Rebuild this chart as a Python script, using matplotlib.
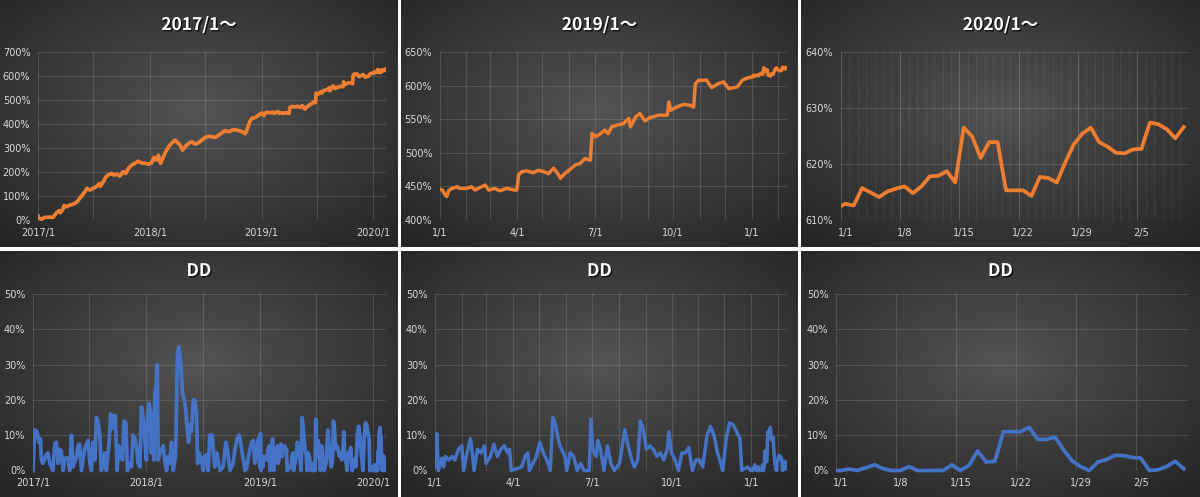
import numpy as np
import pandas as pd
import matplotlib
matplotlib.use('Agg')
import matplotlib.pyplot as plt
import matplotlib.patheffects as pe
from matplotlib.patches import Rectangle

W, H = 1200, 497

# cumulative return (%) 2017-2018, days since 2017/1/1
ret17_day = [0, 3, 11, 22, 38, 49, 55, 62, 69, 73, 80, 85, 93, 104, 117, 128, 136, 145, 153, 160,
             169, 180, 191, 200, 204, 213, 222, 229, 240, 248, 256, 267, 278, 287, 295, 306, 316, 327, 338, 349,
             360, 371, 379, 387, 393, 400, 407, 415, 426, 436, 447, 453, 464, 472, 480, 491, 502, 513, 524, 535,
             546, 557, 567, 578, 589, 600, 611, 622, 633, 644, 655, 666, 677, 684, 691, 698, 709, 720]
ret17_val = [17, 7, 3, 11, 12, 11, 21, 32, 39, 30, 42, 60, 55, 62, 67, 76, 90, 104, 118, 132,
             125, 132, 139, 152, 141, 159, 180, 187, 194, 187, 191, 183, 201, 194, 215, 229, 236, 245, 238, 236,
             233, 238, 261, 250, 270, 236, 256, 280, 305, 319, 333, 326, 312, 291, 305, 319, 326, 316, 322, 333,
             344, 349, 347, 344, 353, 363, 372, 368, 374, 377, 372, 368, 360, 381, 409, 423, 427, 437]

# 2019, days since 2019/1/1
ret19_day = [0, 3, 6, 8, 10, 14, 20, 23, 31, 37, 41, 47, 53, 57, 64, 70, 78, 88, 90, 92,
             96, 102, 109, 115, 121, 127, 133, 139, 141, 146, 154, 158, 164, 170, 176, 178, 182, 188, 193, 197,
             201, 207, 215, 221, 223, 229, 234, 240, 246, 256, 266, 268, 270, 277, 285, 293, 297, 299, 303, 312,
             318, 326, 332, 338, 348, 354, 361]
ret19_val = [445.5, 444.5, 437, 435, 443.6, 447, 449.5, 447, 447, 449.5, 444.5, 448.5, 452, 444.5, 447, 443.6, 447, 444.5, 444.5, 467,
             472, 473, 470.3, 474, 472, 469, 477, 467, 462, 469, 477, 481.7, 484, 491.6, 489, 528.7, 523.8, 528.7, 533.7, 528.7,
             538.6, 541, 543.6, 551, 538.6, 553.5, 558.4, 547.5, 552.5, 556, 556, 575.7, 563.4, 568, 572, 570.8, 568, 603, 608, 608,
             597, 603, 605.5, 595.5, 598, 608, 612]

# daily 2019/12/31 - 2020/2/10
ret20_val = [612.1, 612.9, 612.6, 615.7, 614.9, 614.1, 615.1, 615.6, 616.0, 614.8, 616.0, 617.8, 617.9, 618.7,
             616.7, 626.5, 624.9, 621.1, 623.9, 623.9, 615.3, 615.3, 615.3, 614.3, 617.7, 617.5, 616.7, 620.3,
             623.5, 625.4, 626.5, 623.9, 623.1, 622.0, 621.9, 622.6, 622.7, 627.4, 627.1, 626.2, 624.6, 626.6]

# drawdown (%)
dd17_day = [0, 5, 13, 19, 24, 27, 32, 43, 48, 54, 59, 64, 70, 75, 81, 86, 91, 97, 102, 113,
            118, 124, 129, 140, 145, 150, 156, 166, 172, 177, 183, 188, 193, 199, 204, 209, 215, 220, 226, 231,
            236, 245, 250, 256, 260, 265, 271, 276, 281, 288, 293, 299, 304, 311, 317, 322, 328, 333, 338, 344,
            349, 354, 360, 365, 368, 373, 378, 381, 385, 389, 392, 395, 400, 403, 408, 414, 419, 424, 430, 435,
            440, 446, 451, 459, 465, 470, 476, 481, 487, 492, 496, 501, 505, 510, 516, 521, 526, 530, 535, 542,
            548, 553, 559, 564, 569, 577, 580, 585, 591, 596, 602, 612, 621, 626, 634, 644, 650, 657, 664, 668,
            677, 682, 687, 698, 704, 709, 714, 725]
dd17_val = [0, 11.5, 11, 8, 9, 3, 2, 4.5, 5, 2, 1, 0, 7.5, 8, 2, 6, 5.5, 0, 3.5, 3.5,
            0, 10, 1, 4, 7, 7.5, 0, 6, 7.5, 8.5, 2, 0, 8, 3, 15, 14, 10, 0, 3, 5,
            0, 8, 16, 12, 15.5, 15.5, 0, 7, 4, 3, 14, 13.5, 0, 2, 1, 10, 9, 7, 2, 1,
            18, 15, 9, 3, 14, 19, 17, 5, 16, 3, 22, 23, 30, 3, 5, 6, 7, 3, 0, 4,
            2, 8, 0, 4, 33, 35, 30, 22, 20, 17, 12, 8, 13, 11, 20, 20, 16, 2, 5, 3,
            0, 4, 4.5, 0, 10, 10, 6, 1, 5, 3, 0, 1, 8, 6, 0, 2, 6, 9, 10, 8,
            3, 0, 0.5, 6, 8, 8.5, 2, 9]
dd19_day = [0, 2, 4, 8, 10, 12, 16, 20, 23, 27, 31, 33, 37, 41, 43, 45, 49, 53, 57, 59,
            64, 68, 72, 76, 80, 84, 86, 88, 94, 100, 104, 107, 109, 113, 117, 121, 125, 129, 133, 136,
            139, 143, 146, 150, 152, 156, 160, 164, 168, 172, 178, 180, 182, 186, 188, 191, 195, 199, 203, 207,
            213, 219, 223, 227, 230, 234, 237, 240, 244, 248, 252, 256, 260, 264, 268, 270, 273, 277, 281, 285,
            289, 293, 297, 301, 305, 309, 314, 318, 322, 326, 330, 332, 336, 340, 344, 348, 352, 354, 357, 361]
dd19_val = [1, 10.5, 0, 3.5, 1, 4, 3, 4, 3, 6, 7, 0, 5, 9, 5, 0, 6, 5, 7, 2,
            4, 7.5, 4, 6, 7, 5, 6, 0, 0.5, 1, 4, 5, 0, 2, 4, 8, 5, 3, 0, 15,
            13, 8, 6, 4, 0, 5, 4, 0, 2, 0, 0, 14.5, 6, 4, 8.5, 6, 0, 7, 2, 0,
            2, 11.5, 7, 3, 1, 3, 14, 12, 6, 7, 6, 4, 5, 3, 6, 11, 5, 3, 0, 5,
            5, 6.5, 0, 3, 3, 1, 10, 12.5, 10, 5, 2, 0, 9, 13.5, 13, 11, 9, 0, 0.5, 1]
dd20_val = [0, 0.0, 0.4, 0.0, 0.8, 1.6, 0.5, 0.0, 0.0, 1.1, 0.0, 0.0, 0.0, 0.0, 1.6, 0.0, 1.5, 5.5, 2.4, 2.6,
            11.0, 11.0, 11.0, 12.2, 8.8, 8.8, 9.5, 5.9, 2.7, 1.1, 0.0, 2.4, 3.1, 4.3, 4.2, 3.7, 3.5, 0.0,
            0.2, 1.1, 2.6, 0.5]

titles = ['2017/1～', '2019/1～', '2020/1～']
ORANGE = '#ED7D31'
BLUE = '#4472C4'
TXT = '#d9d9d9'

t17 = pd.Timestamp('2017-01-01') + pd.to_timedelta(ret17_day, unit='D')
t19 = pd.Timestamp('2019-01-01') + pd.to_timedelta(ret19_day, unit='D')
t20 = pd.date_range('2019-12-31', periods=len(ret20_val), freq='D')
d17 = pd.Timestamp('2017-01-01') + pd.to_timedelta(dd17_day, unit='D')
d19 = pd.Timestamp('2019-01-01') + pd.to_timedelta(dd19_day, unit='D')
d20 = pd.date_range('2019-12-31', periods=len(dd20_val), freq='D')

ret_all = pd.Series(ret17_val + ret19_val + ret20_val, index=t17.append(t19).append(t20))
dd_all = pd.Series(dd17_val + dd19_val + dd20_val, index=d17.append(d19).append(d20))

fig = plt.figure(figsize=(W / 100, H / 100), dpi=100, facecolor='white')


def frac(left, right, top, bottom):
    return [left / W, 1 - bottom / H, (right - left) / W, (bottom - top) / H]


# radial dark background for each panel
yy, xx = np.mgrid[0:1:200j, 0:1:300j]
r = np.sqrt((xx - 0.5) ** 2 + (yy - 0.45) ** 2) / np.sqrt(0.5)
r = np.clip(r, 0, 1)
c_in, c_out = 0.33, 0.15
grad = c_in + (c_out - c_in) * r ** 0.9
bg = np.dstack([grad, grad, grad])

cols = [(0, 398), (401, 798), (801, 1200)]
rows = [(0, 247), (251, 497)]
for (top, bot) in rows:
    for (lft, rgt) in cols:
        bax = fig.add_axes(frac(lft, rgt, top, bot), zorder=0)
        bax.imshow(bg, aspect='auto', extent=[0, 1, 0, 1], interpolation='bilinear')
        bax.set_axis_off()

# titles
shadow = [pe.withSimplePatchShadow(offset=(1, -1), shadow_rgbFace='black', alpha=0.7)]
for i, (lft, rgt) in enumerate(cols):
    cx = (lft + rgt) / 2 / W
    fig.text(cx, 1 - 25 / H, titles[i], color='white', fontsize=12.5, fontweight='bold',
             ha='center', va='center', family=['Noto Sans CJK JP', 'DejaVu Sans'], path_effects=shadow)
    fig.text(cx, 1 - 271 / H, 'DD', color='white', fontsize=12.5, fontweight='bold',
             ha='center', va='center', family=['Noto Sans CJK JP', 'DejaVu Sans'], path_effects=shadow)

end = pd.Timestamp('2020-02-11 06:00')
half = pd.Timedelta(hours=12)


def style(ax, ylim, ystep):
    ax.set_facecolor('none')
    for s in ax.spines.values():
        s.set_visible(False)
    ax.set_ylim(*ylim)
    yt = np.arange(ylim[0], ylim[1] + 0.1, ystep)
    ax.set_yticks(yt)
    ax.set_yticklabels([f'{int(v)}%' for v in yt])
    ax.tick_params(which='both', length=0, colors=TXT, labelsize=7, pad=5.5)
    for v in yt:
        ax.axhline(v, color='white', alpha=0.13, lw=0.8, zorder=1)


def vgrid(ax, dates, alpha=0.13):
    for d in dates:
        ax.axvline(d, color='white', alpha=alpha, lw=0.8, zorder=1)


def draw(ax, x, y, color, lw):
    ln, = ax.plot(x, y, color=color, lw=lw, solid_joinstyle='round', zorder=3)
    ln.set_clip_path(Rectangle((0, -0.05), 1, 1.1, transform=ax.transAxes))


year_ticks = pd.to_datetime(['2017-01-01', '2018-01-01', '2019-01-01', '2020-01-01'])
half_years = pd.to_datetime(['2017-01-01', '2017-07-01', '2018-01-01', '2018-07-01',
                             '2019-01-01', '2019-07-01', '2020-01-01'])
months = pd.date_range('2019-01-01', '2020-02-01', freq='MS')
q_ticks = pd.to_datetime(['2019-01-01', '2019-04-01', '2019-07-01', '2019-10-01', '2020-01-01'])
days20 = pd.date_range('2020-01-01', '2020-02-11', freq='D')
weeks20 = pd.date_range('2020-01-01', '2020-02-05', freq='7D')

axes_px = {
    (0, 0): (38, 386, 52, 220), (0, 1): (440, 787, 52, 220), (0, 2): (841, 1188, 52, 220),
    (1, 0): (33, 386, 294, 470.5), (1, 1): (435, 787, 294, 470.5), (1, 2): (836, 1188, 294, 470.5),
}

for row in range(2):
    series = ret_all if row == 0 else dd_all
    color = ORANGE if row == 0 else BLUE
    for col in range(3):
        ax = fig.add_axes(frac(*axes_px[(row, col)]), zorder=2)
        if col == 0:
            s = series
            ax.set_xlim(pd.Timestamp('2017-01-01'), end)
            vgrid(ax, half_years)
            ax.set_xticks(year_ticks)
            ax.set_xticklabels([f'{d.year}/{d.month}' for d in year_ticks])
            x = s.index
            lw = 2.7
        elif col == 1:
            s = series[series.index >= pd.Timestamp('2019-01-01')]
            ax.set_xlim(pd.Timestamp('2019-01-01'), end)
            vgrid(ax, months)
            ax.set_xticks(q_ticks)
            ax.set_xticklabels([f'{d.month}/{d.day}' for d in q_ticks])
            x = s.index
            lw = 2.5
        else:
            s = series[series.index >= pd.Timestamp('2019-12-31')]
            ax.set_xlim(pd.Timestamp('2020-01-01'), pd.Timestamp('2020-02-11'))
            if row == 0:
                vgrid(ax, days20, alpha=0.06)
            vgrid(ax, weeks20)
            ax.set_xticks(weeks20 + half)
            ax.set_xticklabels([f'{d.month}/{d.day}' for d in weeks20])
            x = s.index + half
            lw = 2.7
        if row == 0:
            ylims = [(0, 700, 100), (400, 650, 50), (610, 640, 10)][col]
        else:
            ylims = (0, 50, 10)
        style(ax, ylims[:2], ylims[2])
        draw(ax, x, s.values, color, lw)

fig.savefig('out.png', dpi=100, facecolor='white')
